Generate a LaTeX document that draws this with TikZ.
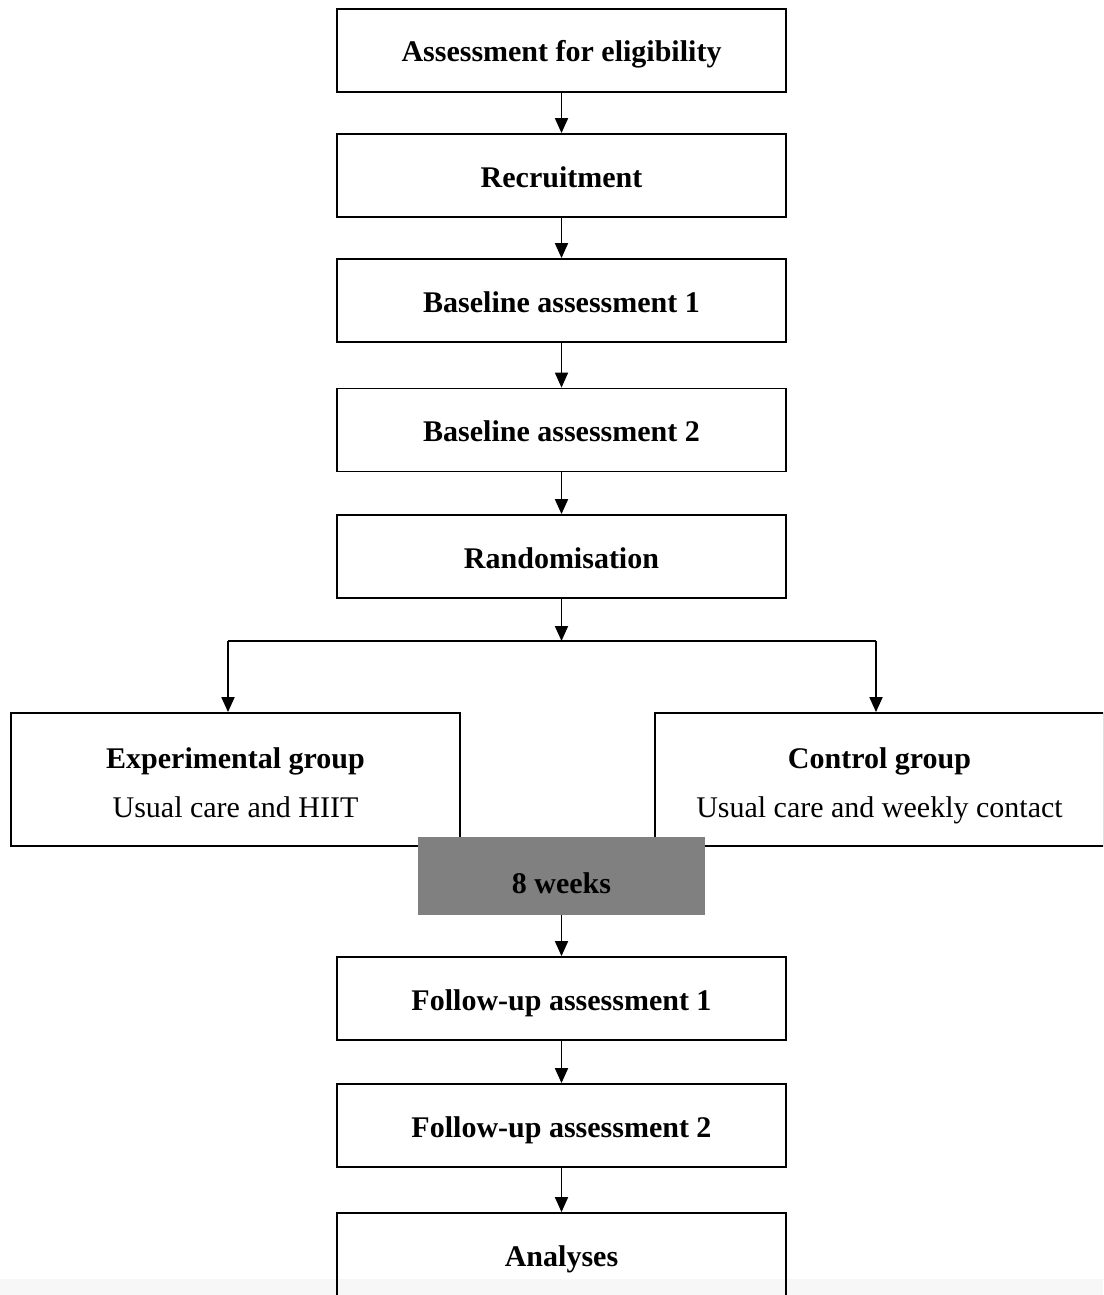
\documentclass[tikz,border=0pt]{standalone}
\usepackage{fontspec}
\setmainfont{Liberation Serif}
\usetikzlibrary{arrows.meta,calc}
\definecolor{weekgray}{RGB}{128,128,128}
\definecolor{bandgray}{RGB}{247,247,247}
\begin{document}
\begin{tikzpicture}[x=1pt,y=-1pt,
  box/.style={draw=black,line width=1.8pt,minimum width=449pt,minimum height=83pt,inner sep=0pt,text height=23pt,text depth=0pt,font=\fontsize{30}{36}\selectfont\bfseries},
  grp/.style={draw=black,line width=1.8pt,minimum width=449pt,minimum height=133pt,inner sep=0pt,align=center,text height=75pt,text depth=0pt,font=\fontsize{30}{49}\selectfont},
  weeks/.style={fill=weekgray,draw=none,minimum width=287pt,minimum height=78pt,inner sep=0pt,text height=34pt,text depth=0pt,font=\fontsize{30}{36}\selectfont\bfseries},
  arr/.style={line width=1.8pt,-{Triangle[width=13pt,length=15pt]}},
  ln/.style={line width=1.8pt}]
\useasboundingbox (0,0) rectangle (1103,1295);
\clip (0,0) rectangle (1103,1295);
\fill[bandgray] (0,1279) rectangle (1103,1295);
\node[box] (elig) at (561.5,50.5) {Assessment for eligibility};
\node[box] (recr) at (561.5,175.5) {Recruitment};
\node[box] (base1) at (561.5,300.5) {Baseline assessment 1};
\node[box] (base2) at (561.5,430) {Baseline assessment 2};
\node[box] (rand) at (561.5,556.5) {Randomisation};
\node[grp] (exp) at (235.5,779.5) {\textbf{Experimental group}\\Usual care and HIIT};
\node[grp] (ctl) at (879.5,779.5) {\textbf{Control group}\\Usual care and weekly contact};
\node[weeks] (wk) at (561.5,876) {8 weeks};
\node[box] (fu1) at (561.5,998.5) {Follow-up assessment 1};
\node[box] (fu2) at (561.5,1125.5) {Follow-up assessment 2};
\node[box] (ana) at (561.5,1254.5) {Analyses};
\coordinate (split) at (561.5,641);
\coordinate (el) at (228,641);
\coordinate (er) at (876,641);
\draw[arr] (elig) -- (recr);
\draw[arr] (recr) -- (base1);
\draw[arr] (base1) -- (base2);
\draw[arr] (base2) -- (rand);
\draw[arr] (rand) -- (split);
\draw[ln] (el) -- (er);
\draw[arr] (el) -- (exp.north -| el);
\draw[arr] (er) -- (ctl.north -| er);
\draw[arr] (wk) -- (fu1);
\draw[arr] (fu1) -- (fu2);
\draw[arr] (fu2) -- (ana);
\end{tikzpicture}
\end{document}
